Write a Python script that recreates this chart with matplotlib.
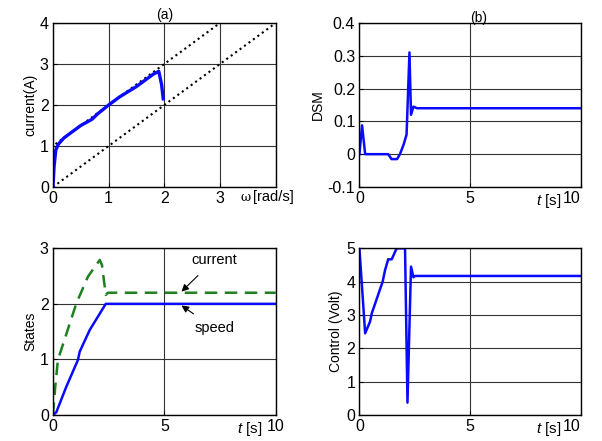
import numpy as np
import matplotlib
matplotlib.use("Agg")
from matplotlib import pyplot as plt

plt.rcParams['font.family'] = ['Liberation Sans', 'DejaVu Sans']
plt.rcParams['font.size'] = 10
plt.rcParams['mathtext.fontset'] = 'custom'
plt.rcParams['mathtext.it'] = 'Liberation Sans:italic'
plt.rcParams['mathtext.rm'] = 'Liberation Sans'

# (a) current vs speed, with the two dotted boundary lines
w_a = [0, 0.02, 0.05, 0.1, 0.2, 0.3, 0.5, 0.7, 0.8, 1.0, 1.2, 1.5, 1.7, 1.8, 1.9, 1.95, 1.98]
i_a = [0, 0.5, 0.9, 1.05, 1.2, 1.3, 1.5, 1.65, 1.78, 2.0, 2.2, 2.45, 2.65, 2.75, 2.82, 2.5, 2.15]
upper_w = [0, 0, 3, 4]
upper_i = [0, 1, 4, 4]
lower_w = [0, 4]
lower_i = [0, 4]

# (b) DSM vs time
t_b = [0, 0.12, 0.26, 1.3, 1.45, 1.7, 1.83, 2.0, 2.13, 2.26, 2.33, 2.44, 2.6, 10]
dsm = [0, 0.088, 0, 0, -0.015, -0.015, 0.0, 0.03, 0.06, 0.31, 0.12, 0.145, 0.14, 0.14]

# (c) states vs time
t_speed = [0, 0.15, 0.6, 1.12, 1.2, 1.65, 2.37, 10]
speed = [0, 0.05, 0.51, 0.99, 1.14, 1.53, 2.0, 2.0]
t_cur = [0, 0.1, 0.22, 1.05, 1.57, 2.1, 2.2, 2.37, 2.47, 10]
cur = [0, 0.5, 0.99, 2.01, 2.49, 2.79, 2.7, 2.16, 2.2, 2.2]

# (d) control vs time
t_u = [0, 0.26, 0.48, 0.56, 1.05, 1.16, 1.3, 1.46, 1.68, 2.06, 2.17, 2.33, 2.44, 2.51, 10]
u = [5, 2.45, 2.8, 3.05, 4.0, 4.35, 4.67, 4.67, 5.0, 5.0, 0.37, 4.45, 4.13, 4.17, 4.17]

blue = '#0a0aff'
green = '#1e801e'

fig = plt.figure(figsize=(6.02, 4.41), dpi=100)
ax_a = fig.add_axes([0.088, 0.576, 0.370, 0.372])
ax_b = fig.add_axes([0.597, 0.576, 0.368, 0.372])
ax_c = fig.add_axes([0.088, 0.059, 0.370, 0.378])
ax_d = fig.add_axes([0.597, 0.059, 0.368, 0.378])

for ax in (ax_a, ax_b, ax_c, ax_d):
    ax.tick_params(direction='in', length=3, labelsize=11.5, pad=3)
    for s in ax.spines.values():
        s.set_linewidth(1.0)
    ax.grid(True, color='0.2', lw=0.8)
    ax.set_axisbelow(True)

# (a)
ax_a.plot(upper_w, upper_i, ':', color='k', lw=1.5)
ax_a.plot(lower_w, lower_i, ':', color='k', lw=1.5)
ax_a.plot(w_a, i_a, color=blue, lw=2.4)
ax_a.set_xlim(0, 4)
ax_a.set_ylim(0, 4)
ax_a.set_xticks([0, 1, 2, 3, 4])
ax_a.set_xticklabels(['0', '1', '2', '3', ''])
ax_a.set_yticks([0, 1, 2, 3, 4])
ax_a.set_ylabel('current(A)', labelpad=2)
ax_a.text(0.5, 1.005, '(a)', transform=ax_a.transAxes, ha='center', va='bottom')
fig.text(246 / 602, 1 - 191 / 441, 'ω', ha='center', va='top',
         family='DejaVu Serif', fontsize=9)
fig.text(253 / 602, 1 - 190 / 441, '[rad/s]', ha='left', va='top', fontsize=10.5)

# (b)
ax_b.plot(t_b, dsm, color=blue, lw=1.8)
ax_b.set_xlim(0, 10)
ax_b.set_ylim(-0.1, 0.4)
ax_b.set_xticks([0, 5, 10])
ax_b.set_yticks([-0.1, 0, 0.1, 0.2, 0.3, 0.4])
ax_b.set_yticklabels(['-0.1', '0', '0.1', '0.2', '0.3', '0.4'])
ax_b.set_ylabel('DSM', labelpad=2)
ax_b.text(0.537, 0.985, '(b)', transform=ax_b.transAxes, ha='center', va='bottom')

# (c)
ax_c.plot(t_cur, cur, '--', color=green, lw=1.8, dashes=(5, 3))
ax_c.plot(t_speed, speed, color=blue, lw=1.8)
ax_c.set_xlim(0, 10)
ax_c.set_ylim(0, 3)
ax_c.set_xticks([0, 5, 10])
ax_c.set_yticks([0, 1, 2, 3])
ax_c.set_ylabel('States', labelpad=2)
ax_c.text(0.94, -0.03, '$t$ [s]', transform=ax_c.transAxes, ha='right', va='top',
          fontsize=11)
ax_c.annotate('current', xy=(5.77, 2.22), xytext=(6.2, 2.79), ha='left', va='center',
              fontsize=10.5,
              arrowprops=dict(arrowstyle='-|>', color='k', lw=0.8, shrinkA=6, shrinkB=0))
ax_c.annotate('speed', xy=(5.77, 1.97), xytext=(6.35, 1.56), ha='left', va='center',
              fontsize=10.5,
              arrowprops=dict(arrowstyle='-|>', color='k', lw=0.8, shrinkA=6, shrinkB=0))

# (d)
ax_d.plot(t_u, u, color=blue, lw=1.8)
ax_d.set_xlim(0, 10)
ax_d.set_ylim(0, 5)
ax_d.set_xticks([0, 5, 10])
ax_d.set_yticks([0, 1, 2, 3, 4, 5])
ax_d.set_ylabel('Control (Volt)', labelpad=2)

# right-hand panels: "10" sits flush with the axis end, "t [s]" just before it
for ax in (ax_b, ax_d):
    fig.canvas.draw()
    ax.get_xticklabels()[-1].set_horizontalalignment('right')
    ax.text(0.91, -0.03, '$t$ [s]', transform=ax.transAxes, ha='right', va='top',
            fontsize=11)

fig.savefig('out.png', dpi=100)
